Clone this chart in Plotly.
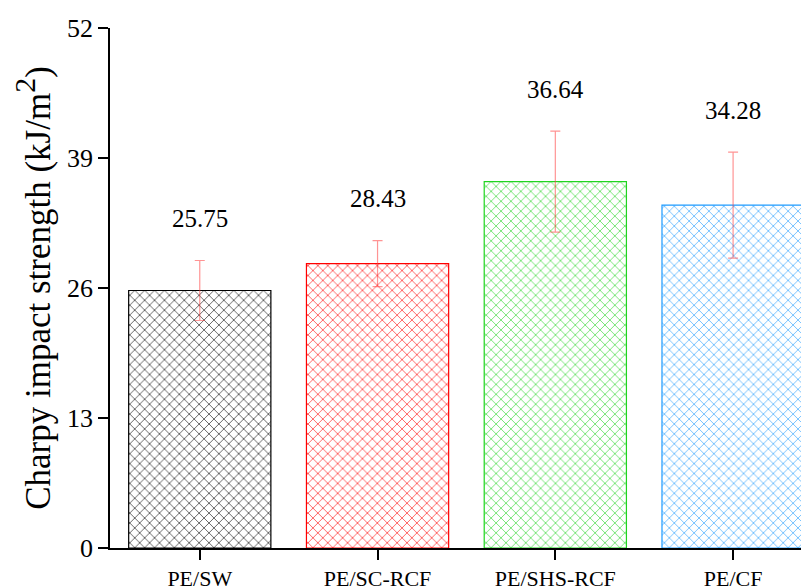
import plotly.graph_objects as go

categories = ["PE/SW", "PE/SC-RCF", "PE/SHS-RCF", "PE/CF"]
values = [25.75, 28.43, 36.64, 34.28]
errors = [3.0, 2.3, 5.05, 5.3]
colors = ["#000000", "#ff0000", "#1fd41f", "#1e9bff"]
y_ticks = [0, 13, 26, 39, 52]

FONT = "Times New Roman, Liberation Serif, DejaVu Serif, serif"

fig = go.Figure()
for i, (c, v, e, col) in enumerate(zip(categories, values, errors, colors)):
    fig.add_trace(go.Bar(
        x=[i], y=[v], width=0.8,
        marker=dict(
            color="white",
            line=dict(color=col, width=1.2),
            pattern=dict(shape="x", size=7, solidity=0.2, fgcolor=col,
                         bgcolor="white", fgopacity=0.8),
        ),
        error_y=dict(type="data", array=[e], visible=True,
                     color="rgba(255,60,60,0.55)", thickness=1.2, width=5),
        showlegend=False,
    ))
    fig.add_annotation(x=i, y=v + e, text=f"{v:.2f}", showarrow=False,
                       yshift=42, yanchor="middle",
                       font=dict(family=FONT, size=25, color="black"))

fig.update_layout(
    width=809, height=586,
    margin=dict(l=102, r=8, t=20, b=46, autoexpand=False),
    plot_bgcolor="white", paper_bgcolor="white",
    bargap=0.2,
    font=dict(family=FONT, color="black"),
)
fig.update_xaxes(
    range=[-0.505, 3.427], automargin=False,
    tickvals=list(range(len(categories))), ticktext=categories,
    ticks="outside", ticklen=10, tickwidth=1.5, tickcolor="black",
    showline=True, linecolor="black", linewidth=1.5,
    showgrid=False, zeroline=False,
    tickfont=dict(family=FONT, size=22, color="black"),
)
fig.update_yaxes(
    range=[0, 52], tickvals=y_ticks, automargin=False,
    ticks="outside", ticklen=10, tickwidth=1.5, tickcolor="black",
    showline=True, linecolor="black", linewidth=1.5,
    showgrid=False, zeroline=False,
    tickfont=dict(family=FONT, size=26, color="black"),
    title=dict(text="Charpy impact strength (kJ/m<sup><span style='font-size:30px'>2</span></sup>)",
               font=dict(family=FONT, size=35, color="black"), standoff=8),
)

fig.write_html("out.html")
